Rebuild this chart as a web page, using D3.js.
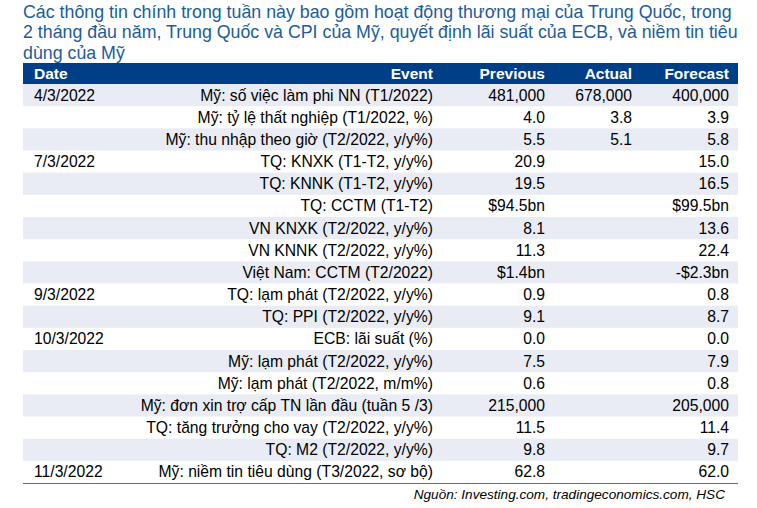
<!DOCTYPE html>
<meta charset="utf-8">
<style>
 body { margin: 0; background: #fff; }
 svg { display: block; font-family: "Liberation Sans", Arial, sans-serif; }
 .title { fill: #1d5c9c; font-size: 17.8px; }
 .head rect { fill: #003f87; }
 .head text { fill: #fff; font-weight: bold; font-size: 15.5px; }
 .row text { fill: #000; font-size: 15.7px; }
 .shade { fill: #e9ecf4; }
 .source { font-size: 13.6px; font-style: italic; fill: #000; }
</style>

<svg id="chart"></svg>

<script src="https://cdn.jsdelivr.net/npm/d3@7"></script>
<script>

 var titleLines = [
     "Các thông tin chính trong tuần này bao gồm hoạt động thương mại của Trung Quốc, trong",
     "2 tháng đầu năm, Trung Quốc và CPI của Mỹ, quyết định lãi suất của ECB, và niềm tin tiêu",
     "dùng của Mỹ"
 ];

 var headers = ["Date", "Event", "Previous", "Actual", "Forecast"];

 var dates = ["4/3/2022", "", "", "7/3/2022", "", "", "", "", "", "9/3/2022", "", "10/3/2022",
              "", "", "", "", "", "11/3/2022"];

 var events = [
     "Mỹ: số việc làm phi NN (T1/2022)",
     "Mỹ: tỷ lệ thất nghiệp (T1/2022, %)",
     "Mỹ: thu nhập theo giờ (T2/2022, y/y%)",
     "TQ: KNXK (T1-T2, y/y%)",
     "TQ: KNNK (T1-T2, y/y%)",
     "TQ: CCTM (T1-T2)",
     "VN KNXK (T2/2022, y/y%)",
     "VN KNNK (T2/2022, y/y%)",
     "Việt Nam: CCTM (T2/2022)",
     "TQ: lạm phát (T2/2022, y/y%)",
     "TQ: PPI (T2/2022, y/y%)",
     "ECB: lãi suất (%)",
     "Mỹ: lạm phát (T2/2022, y/y%)",
     "Mỹ: lạm phát (T2/2022, m/m%)",
     "Mỹ: đơn xin trợ cấp TN lần đầu (tuần 5 /3)",
     "TQ: tăng trưởng cho vay (T2/2022, y/y%)",
     "TQ: M2 (T2/2022, y/y%)",
     "Mỹ: niềm tin tiêu dùng (T3/2022, sơ bộ)"
 ];

 var previous = ["481,000", "4.0", "5.5", "20.9", "19.5", "$94.5bn", "8.1", "11.3", "$1.4bn",
                 "0.9", "9.1", "0.0", "7.5", "0.6", "215,000", "11.5", "9.8", "62.8"];

 var actual = ["678,000", "3.8", "5.1", "", "", "", "", "", "",
               "", "", "", "", "", "", "", "", ""];

 var forecast = ["400,000", "3.9", "5.8", "15.0", "16.5", "$99.5bn", "13.6", "22.4", "-$2.3bn",
                 "0.8", "8.7", "0.0", "7.9", "0.8", "205,000", "11.4", "9.7", "62.0"];

 var sourceText = "Nguồn: Investing.com, tradingeconomics.com, HSC";

 var width = 757, height = 508;
 var left = 23, right = 738;
 var headTop = 63, tableTop = 84, tableBottom = 483;

 var svg = d3.select("#chart").attr("width", width).attr("height", height);

 // title
 svg.append("g").selectAll("text").data(titleLines).enter()
    .append("text").attr("class", "title")
    .attr("x", left)
    .attr("y", function(d, i) { return 17.5 + i * 20.5; })
    .text(function(d) { return d; });

 var rows = d3.range(events.length);

 var y = d3.scaleBand().domain(rows).range([tableTop, tableBottom]).padding(0);

 // column anchor points: date is left aligned, the rest right aligned
 var colX = d3.scaleOrdinal().domain(headers).range([34, 433, 545, 632, 729]);
 var colAnchor = d3.scaleOrdinal().domain(headers).range(["start", "end", "end", "end", "end"]);

 // header
 var head = svg.append("g").attr("class", "head");
 head.append("rect").attr("x", left).attr("y", headTop)
     .attr("width", right - left).attr("height", tableTop - headTop);
 head.selectAll("text").data(headers).enter()
     .append("text")
     .attr("x", function(d) { return colX(d); })
     .attr("y", headTop + 16)
     .attr("text-anchor", function(d) { return colAnchor(d); })
     .text(function(d) { return d; });

 // body rows
 var row = svg.append("g").selectAll(".row").data(rows).enter()
     .append("g").attr("class", "row")
     .attr("transform", function(d) { return "translate(0," + y(d) + ")"; });

 row.filter(function(d) { return d % 2 == 0; })
    .append("rect").attr("class", "shade")
    .attr("x", left).attr("width", right - left).attr("height", y.bandwidth());

 var cols = [dates, events, previous, actual, forecast];
 row.each(function(r) {
     var g = d3.select(this);
     headers.forEach(function(h, c) {
         var v = cols[c][r];
         if (!v) return;
         g.append("text")
          .attr("x", colX(h))
          .attr("y", y.bandwidth() / 2 + 5.5)
          .attr("text-anchor", colAnchor(h))
          .text(v);
     });
 });

 // bottom rule
 svg.append("line").attr("x1", left).attr("x2", right)
    .attr("y1", tableBottom + 0.5).attr("y2", tableBottom + 0.5)
    .attr("stroke", "#4a72a8").attr("stroke-width", 1.2);

 svg.append("text").attr("class", "source")
    .attr("x", 725).attr("y", 499)
    .attr("text-anchor", "end")
    .text(sourceText);

</script>
